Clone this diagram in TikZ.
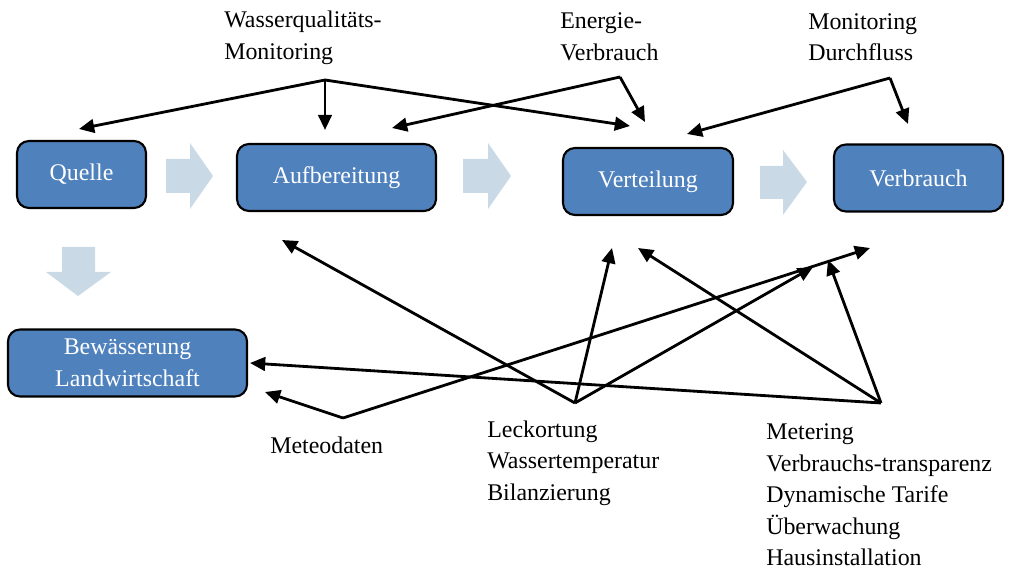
\documentclass[tikz,border=0pt]{standalone}
\usepackage{fontspec}
\setmainfont{Liberation Serif}
\usetikzlibrary{arrows.meta}

\tikzset{
	stage/.style={rectangle, rounded corners=0.3cm, draw=black, line width=1.5pt, fill=stageblue, text=white, align=center, inner sep=0pt, minimum height=1.675cm, font=\fontsize{17}{22.4}\selectfont},
	info/.style={anchor=west, align=left, inner sep=0pt, font=\fontsize{17}{22.4}\selectfont},
	link/.style={-{Triangle[length=0.38cm,width=0.34cm]}, line width=2pt},
	flow/.style={fill=flowblue}
}
\definecolor{stageblue}{HTML}{4F81BD}
\definecolor{flowblue}{HTML}{C9D9E5}

\begin{document}
\begin{tikzpicture}[x=0.025cm,y=-0.025cm]
		\useasboundingbox (0,0) rectangle (1009,569);

		% stages
		\node[stage, minimum width=3.225cm] (quelle) at (81.5,174.5) {Quelle};
		\node[stage, minimum width=4.975cm] (aufb) at (336.5,177.5) {Aufbereitung};
		\node[stage, minimum width=4.25cm] (vert) at (648,181.5) {Verteilung};
		\node[stage, minimum width=4.225cm] (verbr) at (918.5,178) {Verbrauch};
		\node[stage, minimum width=5.975cm] (bew) at (127.5,363) {Bewässerung\\Landwirtschaft};

		% flow arrows
		\fill[flow] (166,159) -- (190,159) -- (190,143) -- (213,176) -- (190,209) -- (190,193) -- (166,193) -- cycle;
		\fill[flow] (463,159) -- (488,159) -- (488,143) -- (511,176) -- (488,209) -- (488,193) -- (463,193) -- cycle;
		\fill[flow] (760,166) -- (783,166) -- (783,150) -- (807,182) -- (783,215) -- (783,199) -- (760,199) -- cycle;
		\fill[flow] (62,247) -- (95,247) -- (95,272) -- (111,272) -- (78,296) -- (46,272) -- (62,272) -- cycle;

		% labels
		\node[info] (wq) at (224,38) {Wasserqualitäts-\\Monitoring};
		\node[info] (energie) at (560,37) {Energie-\\Verbrauch};
		\node[info] (durchfluss) at (808,37) {Monitoring\\Durchfluss};
		\node[info] (meteo) at (270,445) {Meteodaten};
		\node[info] (leck) at (487,463) {Leckortung\\Wassertemperatur\\Bilanzierung};
		\node[info] (metering) at (766,495) {Metering\\Verbrauchs-transparenz\\Dynamische Tarife\\Überwachung\\Hausinstallation};

		% hubs
		\coordinate (wq-hub) at (325,80);
		\coordinate (en-hub) at (620,77);
		\coordinate (md-hub) at (890,78);
		\coordinate (met-hub) at (343,418);
		\coordinate (leck-hub) at (575,403);
		\coordinate (mtr-hub) at (881,403);

		% arrow ends
		\coordinate (quelle-in) at (79,129);
		\coordinate (aufb-in1) at (325,130);
		\coordinate (aufb-in2) at (392,128);
		\coordinate (aufb-in3) at (282,240);
		\coordinate (vert-in1) at (630,126);
		\coordinate (vert-in2) at (645,122);
		\coordinate (vert-in3) at (687,134);
		\coordinate (vert-in4) at (612,248);
		\coordinate (vert-in5) at (638,248);
		\coordinate (verbr-in1) at (908,124);
		\coordinate (verbr-in2) at (813,267);
		\coordinate (verbr-in3) at (870,248);
		\coordinate (verbr-in4) at (828,260);
		\coordinate (bew-in1) at (265,392);
		\coordinate (bew-in2) at (250,363);

		\draw[link] (wq-hub) -- (quelle-in);
		\draw[link] (wq-hub) -- (aufb-in1);
		\draw[link] (wq-hub) -- (vert-in1);
		\draw[link] (en-hub) -- (aufb-in2);
		\draw[link] (en-hub) -- (vert-in2);
		\draw[link] (md-hub) -- (vert-in3);
		\draw[link] (md-hub) -- (verbr-in1);

		\draw[link] (leck-hub) -- (aufb-in3);
		\draw[link] (leck-hub) -- (vert-in4);
		\draw[link] (leck-hub) -- (verbr-in2);
		\draw[link] (met-hub) -- (bew-in1);
		\draw[link] (met-hub) -- (verbr-in3);
		\draw[link] (mtr-hub) -- (bew-in2);
		\draw[link] (mtr-hub) -- (vert-in5);
		\draw[link] (mtr-hub) -- (verbr-in4);
	\end{tikzpicture}
\end{document}
